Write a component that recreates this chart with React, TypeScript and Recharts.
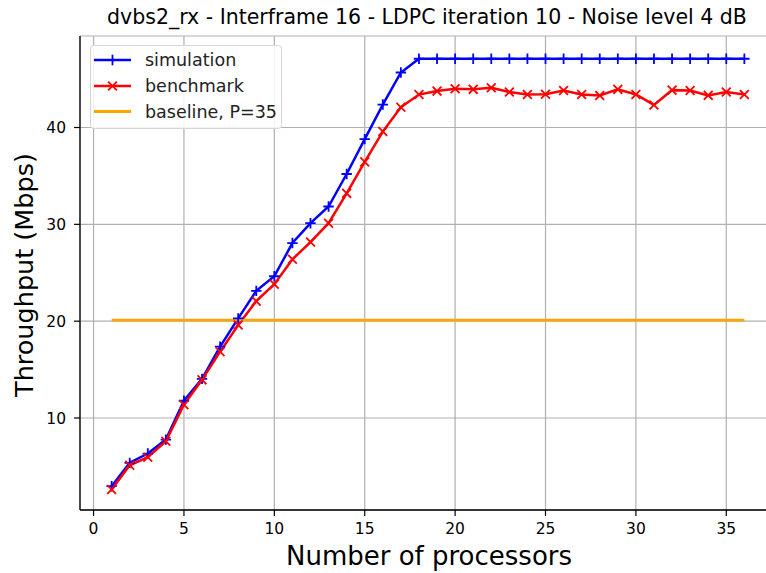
import React from 'react';
import { LineChart, Line, XAxis, YAxis, CartesianGrid, Legend, Customized } from 'recharts';

const processors = [1, 2, 3, 4, 5, 6, 7, 8, 9, 10, 11, 12, 13, 14, 15, 16, 17, 18, 19, 20, 21, 22, 23, 24, 25, 26, 27, 28, 29, 30, 31, 32, 33, 34, 35, 36];
const simulation = [2.96, 5.37, 6.33, 7.77, 11.78, 14.04, 17.37, 20.29, 23.13, 24.64, 28.07, 30.12, 31.84, 35.2, 38.8, 42.37, 45.68, 47.1, 47.1, 47.1, 47.1, 47.1, 47.1, 47.1, 47.1, 47.1, 47.1, 47.1, 47.1, 47.1, 47.1, 47.1, 47.1, 47.1, 47.1, 47.1];
const benchmark = [2.62, 5.12, 5.95, 7.6, 11.37, 13.94, 16.85, 19.6, 22.07, 23.82, 26.39, 28.17, 30.12, 33.2, 36.45, 39.58, 42.09, 43.4, 43.76, 44.0, 43.94, 44.11, 43.66, 43.41, 43.43, 43.83, 43.41, 43.31, 43.94, 43.41, 42.33, 43.86, 43.83, 43.32, 43.66, 43.41];
const baseline = [20.1, 20.1, 20.1, 20.1, 20.1, 20.1, 20.1, 20.1, 20.1, 20.1, 20.1, 20.1, 20.1, 20.1, 20.1, 20.1, 20.1, 20.1, 20.1, 20.1, 20.1, 20.1, 20.1, 20.1, 20.1, 20.1, 20.1, 20.1, 20.1, 20.1, 20.1, 20.1, 20.1, 20.1, 20.1, 20.1];
const xTicks = [0, 5, 10, 15, 20, 25, 30, 35];
const yTicks = [10, 20, 30, 40];
const seriesNames = ['simulation', 'benchmark', 'baseline, P=35'];
const titleText = 'dvbs2_rx - Interframe 16 - LDPC iteration 10 - Noise level 4 dB';
const xLabelText = 'Number of processors';
const yLabelText = 'Throughput (Mbps)';

const data = processors.map((p, i) => ({ p, sim: simulation[i], bench: benchmark[i], base: baseline[i] }));

const FONT = "'DejaVu Sans', sans-serif";
const BLUE = '#0000ff';
const RED = '#ff0000';
const ORANGE = '#ffa500';

const renderPlus = (props: any) => {
  const { cx, cy, index } = props;
  if (cx == null || cy == null) return <g key={`p${index}`} />;
  const s = 5.2;
  return <path key={`p${index}`} d={`M${cx - s},${cy}H${cx + s}M${cx},${cy - s}V${cy + s}`} stroke={BLUE} strokeWidth={1.8} fill="none" />;
};

const renderCross = (props: any) => {
  const { cx, cy, index } = props;
  if (cx == null || cy == null) return <g key={`x${index}`} />;
  const s = 4.4;
  return <path key={`x${index}`} d={`M${cx - s},${cy - s}L${cx + s},${cy + s}M${cx - s},${cy + s}L${cx + s},${cy - s}`} stroke={RED} strokeWidth={1.8} fill="none" />;
};

const TitleText = () => (
  <text x={427} y={24} textAnchor="middle" fontSize={20.5} fontFamily={FONT} fill="#000">{titleText}</text>
);

const XLabel = () => (
  <text x={429} y={565} textAnchor="middle" fontSize={26} fontFamily={FONT} fill="#000">{xLabelText}</text>
);

const YLabel = () => (
  <text x={24} y={275} textAnchor="middle" dominantBaseline="central" transform="rotate(-90 24 275)" fontSize={25.5} fontFamily={FONT} fill="#000">{yLabelText}</text>
);

const LegendBox = () => {
  const rows = [15, 41, 66.5];
  const colors = [BLUE, RED, ORANGE];
  return (
    <svg width={193} height={85} style={{ display: 'block' }}>
      <rect x={0.5} y={0.5} width={191} height={83} rx={3} ry={3} fill="rgba(255,255,255,0.85)" stroke="#d6d6d6" strokeWidth={1} />
      {seriesNames.map((name, i) => {
        const y = rows[i];
        const c = colors[i];
        return (
          <g key={name}>
            <line x1={4} y1={y} x2={41} y2={y} stroke={c} strokeWidth={i === 2 ? 2.8 : 2.5} />
            {i === 0 && <path d={`M${22.5 - 5.2},${y}H${22.5 + 5.2}M22.5,${y - 5.2}V${y + 5.2}`} stroke={BLUE} strokeWidth={1.8} />}
            {i === 1 && <path d={`M${22.5 - 4.4},${y - 4.4}L${22.5 + 4.4},${y + 4.4}M${22.5 - 4.4},${y + 4.4}L${22.5 + 4.4},${y - 4.4}`} stroke={RED} strokeWidth={1.8} />}
            <text x={55} y={y} dominantBaseline="central" fontSize={17.5} fontFamily={FONT} fill="#222">{name}</text>
          </g>
        );
      })}
    </svg>
  );
};

export default function App() {
  return (
    <div style={{ position: 'absolute', left: 0, top: 0, width: 766, height: 573, overflow: 'hidden', background: '#fff' }}>
      <LineChart width={776} height={573} data={data} margin={{ top: 36, right: 0, bottom: 0, left: 0 }} style={{ fontFamily: FONT }}>
        <CartesianGrid stroke="#b0b0b0" strokeWidth={1.2} horizontal vertical />
        <XAxis
          dataKey="p"
          type="number"
          domain={[-0.75, 37.75]}
          ticks={xTicks}
          height={63}
          tickSize={6}
          tickMargin={7}
          allowDataOverflow
          axisLine={{ stroke: '#000', strokeWidth: 1.3 }}
          tickLine={{ stroke: '#000', strokeWidth: 1.2 }}
          tick={{ fill: '#000', fontSize: 15.5, fontFamily: FONT }}
          label={<XLabel />}
        />
        <XAxis
          xAxisId="top"
          orientation="top"
          dataKey="p"
          type="number"
          domain={[-0.75, 37.75]}
          height={0}
          tick={false}
          tickLine={false}
          allowDataOverflow
          axisLine={{ stroke: '#000', strokeWidth: 1.3 }}
        />
        <YAxis
          type="number"
          domain={[0.5, 49.45]}
          ticks={yTicks}
          width={80}
          tickSize={6}
          tickMargin={8}
          allowDataOverflow
          axisLine={{ stroke: '#000', strokeWidth: 1.3 }}
          tickLine={{ stroke: '#000', strokeWidth: 1.2 }}
          tick={{ fill: '#000', fontSize: 15.5, fontFamily: FONT }}
          label={<YLabel />}
        />
        <Line dataKey="sim" name={seriesNames[0]} stroke={BLUE} strokeWidth={2.5} dot={renderPlus} activeDot={false} isAnimationActive={false} />
        <Line dataKey="bench" name={seriesNames[1]} stroke={RED} strokeWidth={2.5} dot={renderCross} activeDot={false} isAnimationActive={false} />
        <Line dataKey="base" name={seriesNames[2]} stroke={ORANGE} strokeWidth={2.8} dot={false} activeDot={false} isAnimationActive={false} />
        <Customized component={TitleText} />
        <Legend
          layout="horizontal"
          verticalAlign="middle"
          align="center"
          content={<LegendBox />}
          wrapperStyle={{ position: 'absolute', left: 90, top: 45, width: 193, height: 85, margin: 0, padding: 0 }}
        />
      </LineChart>
    </div>
  );
}
